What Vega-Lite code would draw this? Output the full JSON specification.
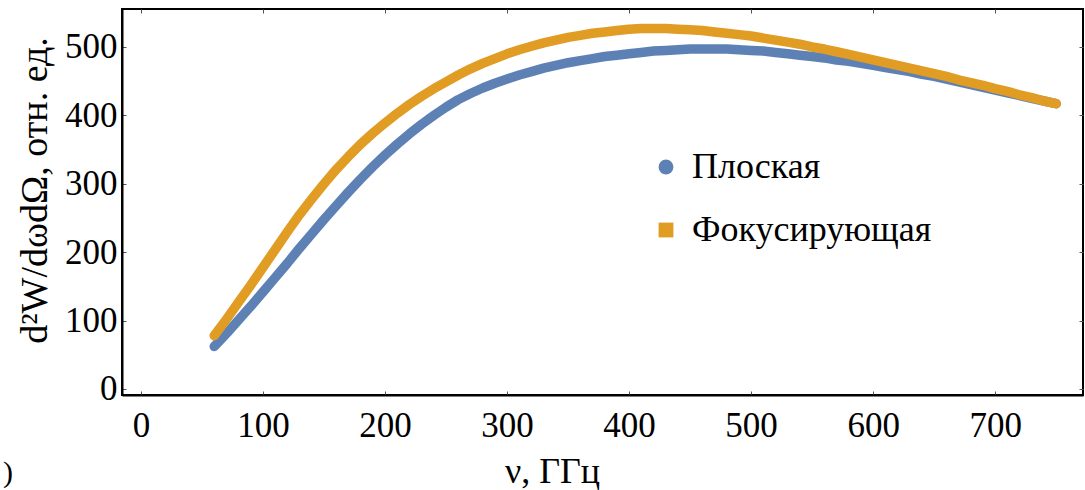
{
  "$schema": "https://vega.github.io/schema/vega-lite/v6.json",
  "autosize": {"type": "none"},
  "width": 961,
  "height": 386,
  "padding": {"left": 122, "top": 9, "right": 2, "bottom": 95},
  "background": "white",
  "config": {
    "view": {"stroke": "black", "strokeWidth": 2},
    "axis": {"grid": false, "labelFont": "Liberation Serif", "titleFont": "Liberation Serif", "labelColor": "black", "titleColor": "black", "labelFontSize": 35, "titleFontSize": 36, "titleFontWeight": "normal", "domainColor": "black", "domainWidth": 2, "tickColor": "#555", "tickSize": -4, "tickWidth": 1},
    "legend": {"padding": 0}
  },
  "title": {"text": ")", "orient": "bottom", "anchor": "start", "frame": "bounds", "font": "Liberation Serif", "fontSize": 30, "fontWeight": "normal", "color": "black", "dx": -13, "offset": -31},
  "datasets": {
    "curves": [
      {"nu": 60, "s": "Плоская", "v": 62}, {"nu": 70, "s": "Плоская", "v": 81}, {"nu": 80, "s": "Плоская", "v": 101}, {"nu": 90, "s": "Плоская", "v": 121}, {"nu": 100, "s": "Плоская", "v": 142}, {"nu": 110, "s": "Плоская", "v": 163}, {"nu": 120, "s": "Плоская", "v": 184}, {"nu": 130, "s": "Плоская", "v": 206}, {"nu": 140, "s": "Плоская", "v": 227}, {"nu": 150, "s": "Плоская", "v": 248}, {"nu": 160, "s": "Плоская", "v": 268}, {"nu": 170, "s": "Плоская", "v": 288}, {"nu": 180, "s": "Плоская", "v": 307}, {"nu": 190, "s": "Плоская", "v": 325}, {"nu": 200, "s": "Плоская", "v": 342}, {"nu": 210, "s": "Плоская", "v": 358}, {"nu": 220, "s": "Плоская", "v": 373}, {"nu": 230, "s": "Плоская", "v": 387}, {"nu": 240, "s": "Плоская", "v": 400}, {"nu": 250, "s": "Плоская", "v": 412}, {"nu": 260, "s": "Плоская", "v": 423}, {"nu": 270, "s": "Плоская", "v": 432}, {"nu": 280, "s": "Плоская", "v": 440}, {"nu": 290, "s": "Плоская", "v": 447}, {"nu": 300, "s": "Плоская", "v": 453}, {"nu": 310, "s": "Плоская", "v": 459}, {"nu": 320, "s": "Плоская", "v": 464}, {"nu": 330, "s": "Плоская", "v": 469}, {"nu": 340, "s": "Плоская", "v": 473}, {"nu": 350, "s": "Плоская", "v": 477}, {"nu": 360, "s": "Плоская", "v": 480}, {"nu": 370, "s": "Плоская", "v": 483}, {"nu": 380, "s": "Плоская", "v": 486}, {"nu": 390, "s": "Плоская", "v": 488}, {"nu": 400, "s": "Плоская", "v": 490}, {"nu": 410, "s": "Плоская", "v": 492}, {"nu": 420, "s": "Плоская", "v": 494}, {"nu": 430, "s": "Плоская", "v": 495}, {"nu": 440, "s": "Плоская", "v": 496}, {"nu": 450, "s": "Плоская", "v": 497}, {"nu": 460, "s": "Плоская", "v": 497}, {"nu": 470, "s": "Плоская", "v": 497}, {"nu": 480, "s": "Плоская", "v": 497}, {"nu": 490, "s": "Плоская", "v": 496}, {"nu": 500, "s": "Плоская", "v": 495}, {"nu": 510, "s": "Плоская", "v": 494}, {"nu": 520, "s": "Плоская", "v": 492}, {"nu": 530, "s": "Плоская", "v": 490}, {"nu": 540, "s": "Плоская", "v": 488}, {"nu": 550, "s": "Плоская", "v": 486}, {"nu": 560, "s": "Плоская", "v": 484}, {"nu": 570, "s": "Плоская", "v": 481}, {"nu": 580, "s": "Плоская", "v": 479}, {"nu": 590, "s": "Плоская", "v": 476}, {"nu": 600, "s": "Плоская", "v": 473}, {"nu": 610, "s": "Плоская", "v": 470}, {"nu": 620, "s": "Плоская", "v": 467}, {"nu": 630, "s": "Плоская", "v": 464}, {"nu": 640, "s": "Плоская", "v": 460}, {"nu": 650, "s": "Плоская", "v": 457}, {"nu": 660, "s": "Плоская", "v": 453}, {"nu": 670, "s": "Плоская", "v": 449}, {"nu": 680, "s": "Плоская", "v": 445}, {"nu": 690, "s": "Плоская", "v": 441}, {"nu": 700, "s": "Плоская", "v": 437}, {"nu": 710, "s": "Плоская", "v": 433}, {"nu": 720, "s": "Плоская", "v": 429}, {"nu": 730, "s": "Плоская", "v": 425}, {"nu": 740, "s": "Плоская", "v": 421}, {"nu": 750, "s": "Плоская", "v": 417},
      {"nu": 60, "s": "Фокусирующая", "v": 78}, {"nu": 70, "s": "Фокусирующая", "v": 102}, {"nu": 80, "s": "Фокусирующая", "v": 127}, {"nu": 90, "s": "Фокусирующая", "v": 152}, {"nu": 100, "s": "Фокусирующая", "v": 178}, {"nu": 110, "s": "Фокусирующая", "v": 204}, {"nu": 120, "s": "Фокусирующая", "v": 230}, {"nu": 130, "s": "Фокусирующая", "v": 255}, {"nu": 140, "s": "Фокусирующая", "v": 278}, {"nu": 150, "s": "Фокусирующая", "v": 300}, {"nu": 160, "s": "Фокусирующая", "v": 321}, {"nu": 170, "s": "Фокусирующая", "v": 340}, {"nu": 180, "s": "Фокусирующая", "v": 358}, {"nu": 190, "s": "Фокусирующая", "v": 374}, {"nu": 200, "s": "Фокусирующая", "v": 389}, {"nu": 210, "s": "Фокусирующая", "v": 403}, {"nu": 220, "s": "Фокусирующая", "v": 416}, {"nu": 230, "s": "Фокусирующая", "v": 428}, {"nu": 240, "s": "Фокусирующая", "v": 439}, {"nu": 250, "s": "Фокусирующая", "v": 449}, {"nu": 260, "s": "Фокусирующая", "v": 459}, {"nu": 270, "s": "Фокусирующая", "v": 468}, {"nu": 280, "s": "Фокусирующая", "v": 476}, {"nu": 290, "s": "Фокусирующая", "v": 483}, {"nu": 300, "s": "Фокусирующая", "v": 490}, {"nu": 310, "s": "Фокусирующая", "v": 496}, {"nu": 320, "s": "Фокусирующая", "v": 501}, {"nu": 330, "s": "Фокусирующая", "v": 506}, {"nu": 340, "s": "Фокусирующая", "v": 510}, {"nu": 350, "s": "Фокусирующая", "v": 514}, {"nu": 360, "s": "Фокусирующая", "v": 517}, {"nu": 370, "s": "Фокусирующая", "v": 520}, {"nu": 380, "s": "Фокусирующая", "v": 522}, {"nu": 390, "s": "Фокусирующая", "v": 524}, {"nu": 400, "s": "Фокусирующая", "v": 526}, {"nu": 410, "s": "Фокусирующая", "v": 527}, {"nu": 420, "s": "Фокусирующая", "v": 527}, {"nu": 430, "s": "Фокусирующая", "v": 527}, {"nu": 440, "s": "Фокусирующая", "v": 526}, {"nu": 450, "s": "Фокусирующая", "v": 525}, {"nu": 460, "s": "Фокусирующая", "v": 524}, {"nu": 470, "s": "Фокусирующая", "v": 522}, {"nu": 480, "s": "Фокусирующая", "v": 520}, {"nu": 490, "s": "Фокусирующая", "v": 518}, {"nu": 500, "s": "Фокусирующая", "v": 516}, {"nu": 510, "s": "Фокусирующая", "v": 513}, {"nu": 520, "s": "Фокусирующая", "v": 510}, {"nu": 530, "s": "Фокусирующая", "v": 507}, {"nu": 540, "s": "Фокусирующая", "v": 504}, {"nu": 550, "s": "Фокусирующая", "v": 500}, {"nu": 560, "s": "Фокусирующая", "v": 497}, {"nu": 570, "s": "Фокусирующая", "v": 493}, {"nu": 580, "s": "Фокусирующая", "v": 489}, {"nu": 590, "s": "Фокусирующая", "v": 485}, {"nu": 600, "s": "Фокусирующая", "v": 481}, {"nu": 610, "s": "Фокусирующая", "v": 477}, {"nu": 620, "s": "Фокусирующая", "v": 473}, {"nu": 630, "s": "Фокусирующая", "v": 469}, {"nu": 640, "s": "Фокусирующая", "v": 465}, {"nu": 650, "s": "Фокусирующая", "v": 461}, {"nu": 660, "s": "Фокусирующая", "v": 457}, {"nu": 670, "s": "Фокусирующая", "v": 452}, {"nu": 680, "s": "Фокусирующая", "v": 448}, {"nu": 690, "s": "Фокусирующая", "v": 444}, {"nu": 700, "s": "Фокусирующая", "v": 439}, {"nu": 710, "s": "Фокусирующая", "v": 435}, {"nu": 720, "s": "Фокусирующая", "v": 430}, {"nu": 730, "s": "Фокусирующая", "v": 426}, {"nu": 740, "s": "Фокусирующая", "v": 421}, {"nu": 750, "s": "Фокусирующая", "v": 417}
    ]
  },
  "data": {"name": "curves"},
  "encoding": {
    "x": {"field": "nu", "type": "quantitative", "scale": {"domain": [-15.6, 772], "nice": false, "zero": false}},
    "y": {"field": "v", "type": "quantitative", "scale": {"domain": [-8.8, 555.5], "nice": false, "zero": false}},
    "color": {"field": "s", "type": "nominal", "scale": {"domain": ["Плоская", "Фокусирующая"], "range": ["#5E81B5", "#E19C24"]}, "legend": {"title": null, "orient": "none", "legendX": 526, "legendY": 140, "symbolSize": 220, "symbolOpacity": 1, "symbolStrokeWidth": 0, "labelFont": "Liberation Serif", "labelFontSize": 36, "labelColor": "black", "labelOffset": 8, "labelLimit": 500, "rowPadding": 27}}
  },
  "layer": [
    {
      "mark": {"type": "line", "strokeWidth": 9.5, "strokeCap": "round", "strokeJoin": "round"},
      "encoding": {
        "x": {"field": "nu", "type": "quantitative", "axis": {"orient": "bottom", "values": [0, 100, 200, 300, 400, 500, 600, 700], "title": "ν, ГГц", "labelPadding": 17, "titleX": 430, "titleY": 87, "titleAlign": "center", "titleBaseline": "alphabetic"}},
        "y": {"field": "v", "type": "quantitative", "axis": {"orient": "left", "values": [0, 100, 200, 300, 400, 500], "title": "d²W/dωdΩ, отн. ед.", "titleFontSize": 38, "labelPadding": 9, "titleX": -87, "titleY": 181, "titleAngle": -90, "titleAlign": "center", "titleBaseline": "middle"}}
      }
    },
    {
      "mark": {"type": "point", "filled": true, "opacity": 0, "size": 20},
      "encoding": {
        "x": {"field": "nu", "type": "quantitative", "axis": {"orient": "top", "values": [0, 100, 200, 300, 400, 500, 600, 700], "labels": false, "title": null, "domain": false}},
        "y": {"field": "v", "type": "quantitative", "axis": {"orient": "right", "values": [0, 100, 200, 300, 400, 500], "labels": false, "title": null, "domain": false}},
        "shape": {"field": "s", "type": "nominal", "scale": {"domain": ["Плоская", "Фокусирующая"], "range": ["circle", "square"]}, "legend": {"title": null, "orient": "none", "legendX": 526, "legendY": 140, "symbolSize": 220, "symbolOpacity": 1, "symbolStrokeWidth": 0, "labelFont": "Liberation Serif", "labelFontSize": 36, "labelColor": "black", "labelOffset": 8, "labelLimit": 500, "rowPadding": 27}}
      }
    }
  ],
  "resolve": {"axis": {"x": "independent", "y": "independent"}}
}
